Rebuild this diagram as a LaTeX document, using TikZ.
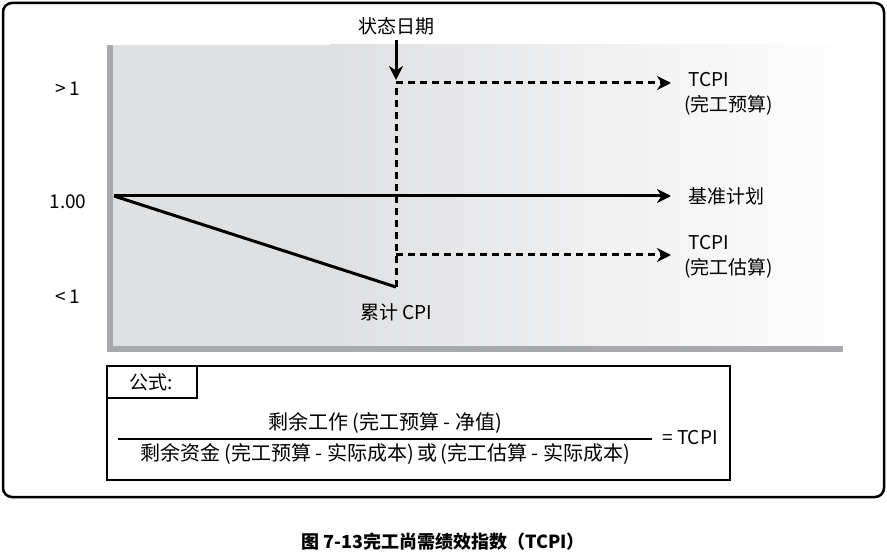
\documentclass[tikz,border=0pt]{standalone}
\usepackage{fontspec}
\setmainfont{Noto Sans CJK SC}
\usetikzlibrary{arrows.meta}
\definecolor{panelgray}{HTML}{DFE0E2}
\definecolor{bargray}{HTML}{A7A9AC}
\tikzset{
  curve/.style={line width=3pt},
  dashline/.style={line width=3pt, dash pattern=on 7pt off 5pt},
  tip/.style={-{Stealth[length=14pt,width=14pt]}},
  lbl/.style={font=\fontsize{19}{21}\selectfont, inner sep=0pt},
  frm/.style={font=\fontsize{20}{22}\selectfont, inner sep=0pt},
}
\begin{document}
\begin{tikzpicture}[x=1pt,y=-1pt]
\useasboundingbox (0,0) rectangle (887,553);
% outer frame
\draw[line width=2.5pt, rounded corners=9pt] (3,3) rectangle (884,497);

% shaded panel
\fill[panelgray] (107,45) rectangle (330,352);
\shade[left color=panelgray, right color=white!97!panelgray] (330,45) rectangle (843,352);
\fill[bargray] (107,45) rectangle (113,352);
\fill[bargray] (107,346) rectangle (843,352);

% points on the chart
\coordinate (o) at (114,196);
\coordinate (cpi) at (396,287);
\coordinate (top) at (396,83);
\coordinate (mid) at (396,255);
\coordinate (ebac) at (671,83);
\coordinate (eplan) at (671,196);
\coordinate (eeac) at (671,255);
\coordinate (sdtip) at (396,80);

% lines
\draw[curve, tip] (o) -- (eplan);
\draw[curve] (o) -- (cpi);
\draw[dashline] (cpi) -- (top);
\draw[dashline, tip] (top) -- (ebac);
\draw[dashline, tip] (mid) -- (eeac);

% status date
\node[lbl] (sd) at (396,26) {状态日期};
\draw[curve, tip, shorten <=5pt] (sd.south) -- (sdtip);

% y labels
\node[lbl] (gt) at (68,89) {>\,1};
\node[lbl] (one) at (68,202) {1.00};
\node[lbl] (lt) at (68,297) {<\,1};

\node[lbl] (ccpi) at (396,312) {累计 CPI};

% right labels
\node[lbl, anchor=west] (tcpia) at (688,80) {TCPI};
\node[lbl, anchor=west] (bac) at (684,105) {(完工预算)};
\node[lbl, anchor=west] (plan) at (688,196) {基准计划};
\node[lbl, anchor=west] (tcpib) at (688,243) {TCPI};
\node[lbl, anchor=west] (eac) at (684,268) {(完工估算)};

% formula box
\draw[line width=1.5pt] (107,366) rectangle (730,480);
\draw[line width=1.5pt] (107,366) rectangle (197,398);
\node[lbl] (fs) at (151,382) {公式:};
\coordinate (fl) at (118,439);
\coordinate (fr) at (652,439);
\draw[line width=1.5pt] (fl) -- (fr);
\node[frm] (num) at (385,423) {剩余工作 (完工预算 - 净值)};
\node[frm] (den) at (385,454) {剩余资金 (完工预算 - 实际成本)\,或\,(完工估算 - 实际成本)};
\node[lbl] (eq) at (690,438) {= TCPI};

% caption
\node[font=\fontsize{18}{20}\selectfont\bfseries, inner sep=0pt] (cap) at (443,542) {图 7-13完工尚需绩效指数（TCPI）};
\end{tikzpicture}
\end{document}
